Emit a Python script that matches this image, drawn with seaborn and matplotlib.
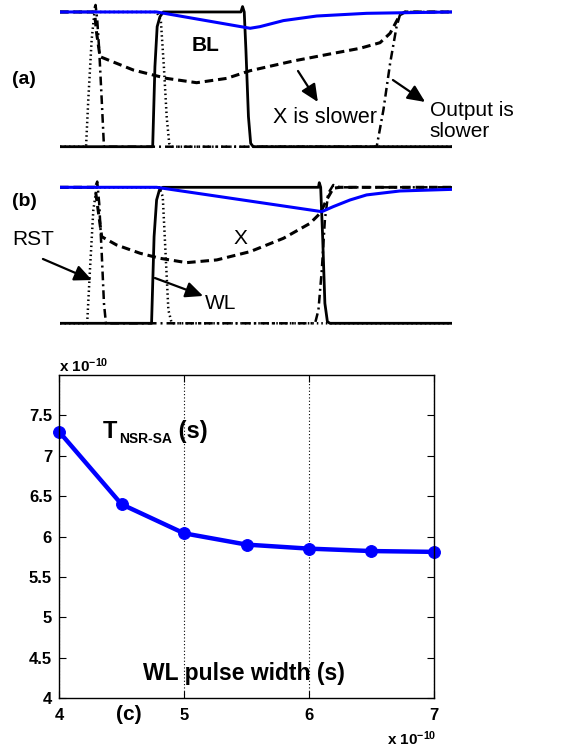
import numpy as np
import pandas as pd
import seaborn as sns
import matplotlib.pyplot as plt

# ---- waveform data, panel (a): time in ps, voltage normalised ----
t_a_wl = [0, 331, 339, 347, 357, 369, 646, 652, 658, 664, 673, 681, 690, 1400]
v_a_wl = [0, 0, 0.594, 0.891, 0.965, 1.0, 1.0, 1.04, 1.0, 0.718, 0.223, 0.025, 0, 0]
t_a_rst = [0, 93, 101, 113, 123, 345, 360, 371, 381, 390, 399, 1400]
v_a_rst = [0, 0, 0.347, 0.792, 1.0, 1.0, 0.941, 0.594, 0.223, 0.025, 0, 0]
t_a_out = [0, 119, 127, 133, 140, 149, 157, 1131, 1155, 1179, 1202, 1214, 1232, 1400]
v_a_out = [1, 1, 1.052, 0.941, 0.718, 0.347, 0, 0, 0.272, 0.619, 0.891, 0.978, 1.0, 1.0]
t_a_x = [0, 123, 131, 143, 262, 381, 488, 595, 679, 833, 976, 1071, 1143, 1179, 1214, 1232, 1400]
v_a_x = [1, 1, 0.84, 0.668, 0.569, 0.507, 0.475, 0.507, 0.564, 0.636, 0.693, 0.730, 0.772, 0.842, 0.978, 1.0, 1.0]
t_a_bl = [0, 345, 679, 714, 798, 917, 1095, 1400]
v_a_bl = [1, 1, 0.879, 0.891, 0.936, 0.970, 0.990, 1.0]

# ---- panel (b) ----
t_b_wl = [0, 327, 336, 345, 355, 367, 923, 926, 931, 938, 946, 955, 964, 1400]
v_b_wl = [0, 0, 0.637, 0.907, 0.98, 1.0, 1.0, 1.034, 1.0, 0.637, 0.147, 0.012, 0, 0]
t_b_rst = [0, 97, 107, 119, 131, 355, 367, 377, 387, 399, 1400]
v_b_rst = [0, 0, 0.392, 0.833, 1.0, 1.0, 0.931, 0.515, 0.098, 0, 0]
t_b_out = [0, 125, 133, 140, 149, 157, 164, 911, 923, 935, 946, 958, 976, 1000, 1400]
v_b_out = [1, 1, 1.042, 0.882, 0.515, 0.147, 0, 0, 0.098, 0.392, 0.760, 0.956, 1.017, 1.0, 1.0]
t_b_x = [0, 125, 135, 149, 202, 286, 357, 452, 560, 679, 798, 893, 929, 952, 976, 1000, 1400]
v_b_x = [1, 1, 0.85, 0.637, 0.576, 0.515, 0.478, 0.446, 0.466, 0.527, 0.625, 0.735, 0.809, 0.907, 0.993, 1.0, 1.0]
t_b_bl = [0, 345, 935, 976, 1036, 1095, 1214, 1400]
v_b_bl = [1, 1, 0.821, 0.858, 0.907, 0.944, 0.973, 0.985]

# ---- panel (c) ----
pulse_width = [4, 4.5, 5, 5.5, 6, 6.5, 7]
t_nsr_sa = [7.30, 6.40, 6.04, 5.90, 5.85, 5.82, 5.81]
x_ticks = [4, 5, 6, 7]
y_ticks = [4, 4.5, 5, 5.5, 6, 6.5, 7, 7.5]
y_ticklabels = ["4", "4.5", "5", "5.5", "6", "6.5", "7", "7.5"]

BLUE = "#0000ff"

sns.set_style("white")
plt.rcParams["font.family"] = ["Liberation Sans", "DejaVu Sans"]
plt.rcParams["text.color"] = "black"
plt.rcParams["xtick.color"] = "black"
plt.rcParams["ytick.color"] = "black"
plt.rcParams["axes.labelcolor"] = "black"
plt.rcParams["mathtext.fontset"] = "custom"
plt.rcParams["mathtext.rm"] = "Liberation Sans:bold"
plt.rcParams["mathtext.bf"] = "Liberation Sans:bold"
plt.rcParams["mathtext.default"] = "bf"

fig = plt.figure(figsize=(5.64, 7.46), dpi=100)
ax_a = fig.add_axes([60 / 564, 0.7853, 392 / 564, 0.2131])
ax_b = fig.add_axes([60 / 564, 0.5484, 392 / 564, 0.2151])
ax_c = fig.add_axes([59 / 564, 0.0643, 375 / 564, 0.433])


def draw_waves(ax, wl, rst, out, x, bl):
    sig = dict(estimator=None, sort=False, ax=ax, legend=False)
    sns.lineplot(x=wl[0], y=wl[1], color="black", lw=2.0, **sig)
    sns.lineplot(x=rst[0], y=rst[1], color="black", lw=1.8, linestyle=(0, (0.6, 1.2)), **sig)
    sns.lineplot(x=out[0], y=out[1], color="black", lw=1.8, linestyle=(0, (3.5, 1.6, 0.8, 1.6)), **sig)
    sns.lineplot(x=x[0], y=x[1], color="black", lw=2.2, linestyle=(0, (2.8, 1.6)), **sig)
    sns.lineplot(x=bl[0], y=bl[1], color=BLUE, lw=2.2, **sig)
    ax.set_xlim(0, 1400)
    ax.set_ylim(-0.1, 1.08)
    ax.set_axis_off()


def arrow(ax, tail, head):
    ax.annotate("", xy=head, xytext=tail, annotation_clip=False,
                arrowprops=dict(arrowstyle="-|>,head_length=0.7,head_width=0.32",
                                color="black", lw=1.6, mutation_scale=15,
                                shrinkA=0, shrinkB=0))


draw_waves(ax_a, (t_a_wl, v_a_wl), (t_a_rst, v_a_rst), (t_a_out, v_a_out),
           (t_a_x, v_a_x), (t_a_bl, v_a_bl))
draw_waves(ax_b, (t_b_wl, v_b_wl), (t_b_rst, v_b_rst), (t_b_out, v_b_out),
           (t_b_x, v_b_x), (t_b_bl, v_b_bl))

# panel (a) labels
ax_a.text(-170, 0.50, "(a)", fontsize=14, fontweight="bold", ha="left", va="center")
ax_a.text(521, 0.75, "BL", fontsize=15, fontweight="bold", ha="center", va="center")
ax_a.text(946, 0.213, "X is slower", fontsize=15.5, ha="center", va="center")
ax_a.text(1321, 0.19, "Output is\nslower", fontsize=15, ha="left", va="center",
          linespacing=1.15)
arrow(ax_a, (850, 0.562), (921, 0.332))
arrow(ax_a, (1189, 0.495), (1304, 0.332))

# panel (b) labels
ax_b.text(-170, 0.892, "(b)", fontsize=14, fontweight="bold", ha="left", va="center")
ax_b.text(-170, 0.613, "RST", fontsize=15, ha="left", va="center")
ax_b.text(643, 0.627, "X", fontsize=15, ha="center", va="center")
ax_b.text(518, 0.149, "WL", fontsize=15, ha="left", va="center")
arrow(ax_b, (-61, 0.473), (114, 0.318))
arrow(ax_b, (339, 0.333), (511, 0.201))

# panel (c)
sns.lineplot(x=pulse_width, y=t_nsr_sa, ax=ax_c, color=BLUE, lw=3.2, marker="o",
             markersize=8.5, markeredgecolor=BLUE, clip_on=False)
ax_c.set_xlim(4, 7)
ax_c.set_ylim(4, 8)
ax_c.set_xticks(x_ticks)
ax_c.set_xticklabels([str(v) for v in x_ticks], fontweight="bold", fontsize=12)
ax_c.set_yticks(y_ticks)
ax_c.set_yticklabels(y_ticklabels, fontweight="bold", fontsize=12)
ax_c.tick_params(direction="in", length=5, width=0.8, top=True, right=True,
                 bottom=True, left=True, colors="black", pad=5)
ax_c.tick_params(axis="x", pad=7)
ax_c.xaxis.grid(True, linestyle=(0, (1, 2)), color="black", lw=0.8)
ax_c.yaxis.grid(False)
for s in ax_c.spines.values():
    s.set_color("black")
    s.set_linewidth(1.0)
ax_c.set_xlabel("")
ax_c.set_ylabel("")

t_main = ax_c.text(4.352, 7.22, "T", fontsize=17, fontweight="bold", ha="left", va="baseline")
t_sub = ax_c.annotate("NSR-SA", xy=(1, 0), xycoords=t_main, xytext=(1, -2.5),
                      textcoords="offset points", fontsize=10, fontweight="bold",
                      ha="left", va="bottom")
ax_c.annotate(" (s)", xy=(1, 0), xycoords=t_sub, xytext=(0, 2.5),
              textcoords="offset points", fontsize=17, fontweight="bold",
              ha="left", va="bottom")
ax_c.text(4.672, 4.22, "WL pulse width (s)", fontsize=16.5, fontweight="bold",
          ha="left", va="baseline")

fig.text(129 / 564, 1 - 715 / 746, "(c)", fontsize=15, fontweight="bold",
         ha="center", va="center")
fig.text(59 / 564, 1 - 372 / 746, r"x 10$^{-10}$", fontsize=11, fontweight="bold",
         ha="left", va="baseline")
fig.text(387 / 564, 0.002, r"x 10$^{-10}$", fontsize=11, fontweight="bold",
         ha="left", va="baseline")

fig.savefig("out.png", dpi=100, facecolor="white")
